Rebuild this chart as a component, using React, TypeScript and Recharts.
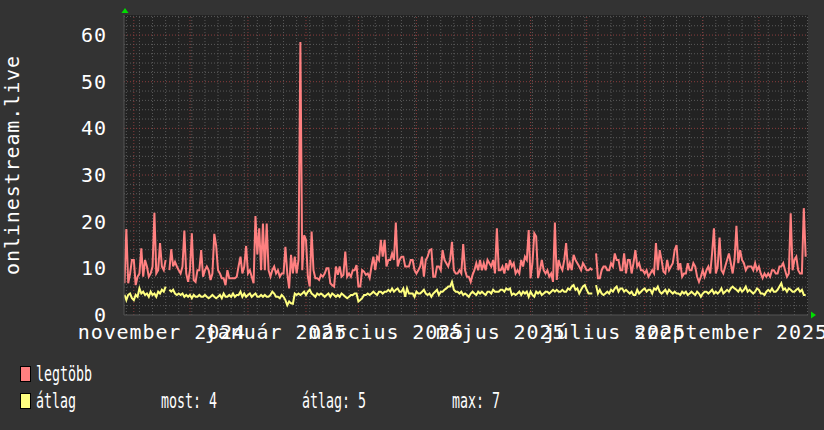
import { LineChart, Line, XAxis, YAxis, CartesianGrid, ReferenceLine } from 'recharts';

const DAY = 86400000;
const START = Date.UTC(2024, 9, 27);

const MONTHS_HU = ['január', 'február', 'március', 'április', 'május', 'június', 'július', 'augusztus', 'szeptember', 'október', 'november', 'december'];

// napi legtöbb (max) néző, 2024-10-27-től
const legtobb: (number | null)[] = [
  6.8, 18.4, 6.8, 8.9, 11.8, 11.8, 6.4, 8.2, 8.9, 14.3,
  8.2, 11.8, 10.4, 8.2, 8.9, 10.4, 21.9, 8.9, 9.6, 15.4,
  10.4, 9.6, 11.8, null, 9.6, 14.1, 10.4, 11.4, 10.4, 9.6,
  8.9, 10.4, 18.1, 8.9, 7.1, 9.6, 17.5, 7.5, 7.1, 9.6,
  9.6, 13.9, 8.2, 9.6, 10.4, 9.6, 7.5, 8.9, 17.4, 14.8,
  9.6, 8.9, 7.9, 7.9, 6.4, 9.6, 7.9, 7.9, 7.9, 7.9,
  8.2, 10.5, 12.5, 8.9, 10.4, 14.8, 8.9, 9.6, 8.2, 6.8,
  21.2, 13, 18.6, 9.6, 19.6, 9.6, 19.6, 9.6, 8.2, 9.6,
  10.4, 8.9, 9.6, 8.2, 8.9, 8.9, 14.6, 8.9, 5.7, 12.9,
  8.9, 12.5, 8.9, 11.8, 58.5, 9.6, 17.1, 16.1, 8.2, 6.1,
  17.9, 9.6, 7.9, 7.9, 7.5, 8.6, 8.2, 8.9, 10, 10,
  6.8, 6.4, 6.1, 10.4, 8.6, 10.4, 8.2, 8.6, 13.6, 8.2,
  8.9, 8.2, 9.6, 9.6, 10.7, 6.1, 6.1, 9.6, 9.3, 8.6,
  8.9, 7.9, 10.4, 12.5, 9.6, 12.5, 11.8, 16.1, 12.5, 16.1,
  10.4, 11.8, 11.8, 13.2, 11.8, 19.8, 10.4, 11.8, 12.5, 12.5,
  10.4, 10.4, 10.4, 11.8, 11.8, 9.6, 8.9, 9.6, 10.4, 12.5,
  8.2, 11.8, 12.5, 13.9, 14.1, 8.2, 8.2, 10.4, 10.4, 9.6,
  13.9, 11.8, 11.1, 10.4, 11.8, 15.7, 9.6, 8.9, 8.9, 9.6,
  8.9, 15.2, 9.6, 8.2, 8.2, 7.1, 8.6, 9.6, 11.1, 9.6,
  11.8, 9.6, 11.1, 9.6, 11.8, 11.1, 10.4, 11.8, 8.9, 18.6,
  9.6, 9.6, 10.4, 8.9, 11.1, 9.6, 11.8, 10.4, 11.1, 8.9,
  9.6, 8.9, 11.8, 10.4, 12.5, 11.8, 18.2, 7.9, 11.1, 17.5,
  16.8, 7.9, 9.6, 11.8, 9.6, 8.9, 9.6, 8.2, 8.9, 7.1,
  19.8, 7.5, 11.8, 10.4, 9.6, 11.8, 15.4, 9.6, 11.1, 9.6,
  12.9, 11.8, 11.1, 10.4, 9.6, 11.1, 10.4, 9.6, 9.6, 10,
  9.6, null, 13.2, 7.9, 7.9, 9.6, 10.4, 10.4, 9.6, 9.6,
  11.1, 10.4, 13.2, 11.8, 11.8, 9.6, 9.6, 13.2, 8.9, 11.8,
  11.8, 8.9, 11.1, 13.9, 10.4, 11.1, 9.6, 9.6, 8.9, 9.6,
  8.2, 8.9, 9.6, 8.9, 15.4, 9.6, 13.9, 11.8, 9.3, 8.9,
  11.8, 9.6, 10.4, 11.1, 13.9, 15, 9.6, 11.1, 8.2, 8.9,
  8.9, 11.1, 9.6, 9.6, 11.1, 10.4, 8.2, 7.1, 8.2, 9.6,
  8.2, 9.6, 10.4, 8.9, 13.2, 18.6, 8.9, 10.4, 16.6, 9.6,
  8.9, 10.4, 11.8, 13.2, 11.1, 8.9, 11.8, 19.1, 11.1, 13.9,
  11.8, 11.1, 9.6, 10.4, 10.4, 10.4, 9.6, 11.1, 9.6, 10.4,
  8.9, 7.9, 8.9, 8.2, 8.9, 8.2, 9.6, 9.6, 8.9, 8.9,
  10.4, 10.4, 11.1, 9.6, 8.2, 8.9, 21.8, 9.6, 11.8, 12.5,
  9.6, 8.9, 8.9, 22.9, 12.5,
];

// napi átlag
const atlag: (number | null)[] = [
  4.3, 3.2, 4.3, 4.6, 3.6, 3.2, 4.3, 3.9, 5.7, 4.6,
  5.0, 4.3, 4.6, 3.9, 5.0, 4.3, 4.6, 3.9, 5.0, 4.6,
  5.4, 5.0, 6.1, null, 5.4, 5.0, 5.4, 4.6, 4.3, 4.6,
  4.3, 4.6, 3.9, 4.3, 3.9, 4.3, 3.6, 4.3, 3.9, 3.9,
  4.3, 3.9, 3.9, 4.3, 3.9, 3.6, 3.9, 4.3, 3.9, 3.6,
  3.9, 4.3, 3.6, 4.6, 3.9, 3.9, 4.3, 3.9, 4.6, 3.9,
  4.3, 4.3, 5.0, 3.9, 4.6, 3.9, 4.3, 4.6, 3.9, 4.3,
  4.6, 3.9, 3.9, 4.3, 3.9, 4.3, 3.9, 3.9, 4.3, 5.0,
  4.6, 3.9, 3.9, 3.6, 4.3, 3.9, 3.2, 2.1, 2.9, 2.5,
  2.4, 4.6, 4.3, 4.6, 4.3, 4.6, 5.0, 4.3, 5.0, 5.4,
  4.6, 4.3, 3.9, 4.6, 4.3, 4.6, 4.3, 3.9, 4.3, 4.6,
  3.9, 4.6, 4.3, 3.9, 4.3, 3.9, 4.6, 4.3, 3.9, 3.6,
  3.9, 4.3, 4.3, 4.6, 4.6, 2.9, 3.2, 3.6, 4.3, 4.3,
  4.6, 4.3, 4.6, 5.0, 4.6, 4.3, 5.0, 5.0, 4.6, 5.0,
  5.0, 5.4, 5.0, 5.7, 5.0, 5.4, 5.7, 5.0, 5.0, 5.7,
  3.9, 5.7, 4.6, 4.6, 4.6, 3.9, 5.0, 4.6, 4.6, 5.0,
  5.4, 4.6, 4.3, 4.6, 3.9, 4.6, 5.0, 5.4, 4.3, 5.0,
  5.0, 5.4, 5.7, 6.1, 6.1, 7.1, 5.4, 5.0, 5.0, 4.6,
  5.0, 4.3, 4.6, 4.3, 3.9, 4.6, 5.0, 4.6, 4.3, 5.0,
  4.6, 5.0, 4.6, 4.3, 5.0, 5.0, 4.6, 5.4, 5.0, 5.0,
  5.0, 5.4, 5.4, 5.0, 5.7, 5.4, 5.7, 4.3, 4.6, 4.3,
  4.6, 5.0, 4.3, 5.0, 4.6, 5.0, 3.9, 5.0, 4.3, 3.9,
  5.0, 4.6, 5.0, 4.3, 4.6, 5.0, 5.0, 4.6, 5.0, 5.4,
  5.0, 5.4, 5.0, 5.0, 5.4, 5.0, 5.0, 5.7, 5.4, 6.1,
  6.4, 5.4, 5.7, 4.6, 5.4, 6.1, 6.4, 5.4, 4.6, 4.6,
  4.6, null, 6.4, 4.6, 5.4, 4.6, 4.3, 4.6, 5.0, 4.6,
  5.4, 5.0, 5.7, 6.1, 5.0, 5.7, 5.7, 5.0, 5.4, 5.0,
  4.6, 5.0, 4.3, 4.3, 5.4, 4.6, 5.0, 5.4, 5.7, 5.0,
  5.4, 5.4, 4.6, 5.7, 5.4, 6.1, 5.0, 4.6, 5.0, 5.4,
  4.6, 5.4, 5.0, 4.6, 5.0, 4.6, 4.6, 4.3, 5.0, 4.6,
  5.0, 4.3, 4.6, 5.0, 4.6, 4.3, 5.0, 4.6, 3.9, 4.6,
  5.0, 5.0, 4.6, 5.0, 5.4, 4.6, 5.0, 4.6, 5.0, 5.7,
  4.6, 5.0, 5.4, 5.0, 5.7, 6.1, 5.7, 5.4, 5.0, 5.7,
  5.0, 5.4, 6.1, 5.0, 5.4, 5.0, 4.6, 5.0, 5.7, 5.4,
  4.6, 4.6, 4.3, 5.0, 5.4, 5.0, 5.7, 5.0, 5.0, 5.4,
  6.1, 6.8, 5.4, 5.7, 5.0, 5.7, 5.4, 5.0, 5.0, 5.4,
  5.7, 5.0, 5.4, 4.3, 4.3,
];

const yTicks = [0, 10, 20, 30, 40, 50, 60];
// címkék a hónap közepén (rrdtool precis/2 eltolás)
const labelMonths: [number, number][] = [[2024, 10], [2025, 0], [2025, 2], [2025, 4], [2025, 6], [2025, 8]];

const X_MIN = START - 0.25 * DAY;
const X_MAX = START + 365.25 * DAY;
const Y_MAX = 64.3;

const FONT = '"DejaVu Sans Mono", monospace';
const BG = '#333333';
const PLOT_BG = '#222222';
const RED = '#ff8080';
const YELLOW = '#ffff80';
const MINOR = '#5a5a5a';
const MAJOR = '#8a3c3c';

const data = legtobb.map((v, i) => ({ t: START + i * DAY, max: v, avg: atlag[i] }));

const xLabelTicks = labelMonths.map(([y, m]) => Date.UTC(y, m, 16));

const monthLines: number[] = [];
for (let m = 10; m < 22; m++) monthLines.push(Date.UTC(2024, m, 1));
const weekLines: number[] = [];
for (let t = Date.UTC(2024, 9, 28); t < X_MAX; t += 7 * DAY) weekLines.push(t);
const minorH: number[] = [];
for (let v = 2; v < Y_MAX; v += 2) if (v % 10 !== 0) minorH.push(v);
const majorH = yTicks.filter(v => v > 0);

const avgValues = atlag.filter((v): v is number => v !== null);
const most = avgValues[avgValues.length - 1];
const avgMean = avgValues.reduce((s, v) => s + v, 0) / avgValues.length;
const avgMax = Math.max(...avgValues);

const YTick = ({ x, y, payload }: any) => (
  <text x={x} y={y} dy={7} textAnchor="end" fill="#ffffff" fontFamily={FONT} fontSize={20} letterSpacing={0.9}>
    {payload.value}
  </text>
);

const XTick = ({ x, y, payload }: any) => {
  const d = new Date(payload.value);
  return (
    <text x={x} y={y + 24} textAnchor="middle" fill="#ffffff" fontFamily={FONT} fontSize={20} letterSpacing={0.9}>
      {`${MONTHS_HU[d.getUTCMonth()]} ${d.getUTCFullYear()}`}
    </text>
  );
};

const LegendText = ({ x, y, children }: { x: number; y: number; children: string }) => (
  <text transform={`translate(${x},${y}) scale(1,1.6)`} fill="#ffffff" fontFamily={FONT} fontSize={13.3}>
    {children}
  </text>
);

export default function App() {
  return (
    <div style={{ position: 'relative', width: 824, height: 430, background: BG }}>
      <style>{'body{margin:0}'}</style>
      <LineChart width={824} height={430} data={data} margin={{ top: 15, right: 16, left: 0, bottom: 85 }}>
        <CartesianGrid horizontal={false} vertical={false} fill={PLOT_BG} stroke="none" />
        {weekLines.map(t => (
          <ReferenceLine key={`w${t}`} x={t} stroke={MINOR} strokeDasharray="1 2" />
        ))}
        {minorH.map(v => (
          <ReferenceLine key={`h${v}`} y={v} stroke={MINOR} strokeDasharray="1 2" />
        ))}
        {monthLines.map(t => (
          <ReferenceLine key={`m${t}`} x={t} stroke={MAJOR} strokeDasharray="1 2" />
        ))}
        {majorH.map(v => (
          <ReferenceLine key={`H${v}`} y={v} stroke={MAJOR} strokeDasharray="1 2" />
        ))}
        <XAxis
          dataKey="t"
          type="number"
          domain={[X_MIN, X_MAX]}
          ticks={xLabelTicks}
          tick={<XTick />}
          tickLine={false}
          tickSize={0}
          tickMargin={0}
          height={30}
          axisLine={{ stroke: '#555555' }}
          allowDataOverflow
          interval={0}
        />
        <YAxis
          type="number"
          domain={[0, Y_MAX]}
          ticks={yTicks}
          tick={<YTick />}
          tickLine={false}
          tickSize={0}
          tickMargin={17}
          width={124}
          axisLine={{ stroke: '#555555' }}
          allowDataOverflow
          interval={0}
        />
        <Line
          type="linear"
          dataKey="max"
          stroke={RED}
          strokeWidth={2}
          dot={false}
          activeDot={false}
          connectNulls={false}
          isAnimationActive={false}
        />
        <Line
          type="linear"
          dataKey="avg"
          stroke={YELLOW}
          strokeWidth={2}
          dot={false}
          activeDot={false}
          connectNulls={false}
          isAnimationActive={false}
        />
      </LineChart>
      <svg width={824} height={430} style={{ position: 'absolute', left: 0, top: 0, pointerEvents: 'none' }}>
        <text
          transform="translate(19,165) rotate(-90)"
          textAnchor="middle"
          fill="#ffffff"
          fontFamily={FONT}
          fontSize={20}
          letterSpacing={0.9}
        >
          onlinestream.live
        </text>
        <polygon points="121.5,13 128.5,13 125,8" fill="#00dd00" />
        <polygon points="811,311.5 811,318.5 816,315" fill="#00dd00" />

        <rect x={20.5} y={366.5} width={10} height={15} fill={RED} stroke="#000000" />
        <LegendText x={36} y={381}>legtöbb</LegendText>
        <rect x={20.5} y={393.5} width={10} height={15} fill={YELLOW} stroke="#000000" />
        <LegendText x={36} y={408}>átlag</LegendText>
        <LegendText x={161} y={408}>{`most: ${Math.round(most)}`}</LegendText>
        <LegendText x={302} y={408}>{`átlag: ${Math.round(avgMean)}`}</LegendText>
        <LegendText x={452} y={408}>{`max: ${Math.round(avgMax)}`}</LegendText>
      </svg>
    </div>
  );
}
